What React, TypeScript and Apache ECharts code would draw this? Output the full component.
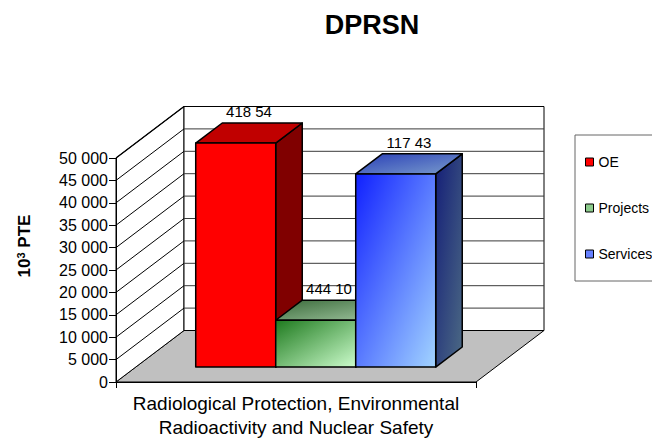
import React, { useEffect, useRef } from "react";
import * as echarts from "echarts";

// ---------- data ----------
const categories = ["Radiological Protection, Environmental\nRadioactivity and Nuclear Safety"];
const seriesNames = ["OE", "Projects", "Services"];
const seriesValues = [54418, 10444, 43117];
const valueLabels = ["418 54", "444 10", "117 43"];
const yTickValues = [0, 5000, 10000, 15000, 20000, 25000, 30000, 35000, 40000, 45000, 50000];
const yMin = 0;
const yMax = 50000;
const yInterval = 5000;

// ---------- styling ----------
const FONT = "'Liberation Sans', Arial, sans-serif";
const DEPTH_X = 68;
const DEPTH_Y = 51.5;
const D_FRONT = 0.29;
const D_BACK = 0.68;

const lg = (a: string, b: string) =>
  new echarts.graphic.LinearGradient(0, 0, 1, 1, [
    { offset: 0, color: a },
    { offset: 1, color: b },
  ]);

const faceStyles = [
  { front: () => "#FF0000", top: () => "#C00000", side: () => "#800000", legend: "#FF0000" },
  {
    front: () => lg("#1E7A1E", "#CCFCCC"),
    top: () => lg("#3A6A3A", "#9EC49E"),
    side: () => lg("#2A5A2A", "#6E9E6E"),
    legend: "#8CCB8C",
  },
  {
    front: () => lg("#1020FF", "#A2D4FF"),
    top: () => lg("#2A40B8", "#7A9CCC"),
    side: () => lg("#141E78", "#4C6A84"),
    legend: "#6680FF",
  },
];

const fmt = (v: number) => String(v).replace(/\B(?=(\d{3})+(?!\d))/g, " ");

function frameRender(params: any, api: any) {
  const base = api.coord([0, yMin]);
  const topPt = api.coord([0, yMax]);
  const band = api.size([1, 0])[0];
  const L = base[0] - band / 2;
  const R = base[0] + band / 2;
  const y0 = base[1];
  const yT = topPt[1];
  const children: any[] = [];
  children.push({
    type: "polygon",
    shape: { points: [[L, y0], [R, y0], [R + DEPTH_X, y0 - DEPTH_Y], [L + DEPTH_X, y0 - DEPTH_Y]] },
    style: { fill: "#C0C0C0", stroke: "#000", lineWidth: 1 },
  });
  children.push({
    type: "polygon",
    shape: { points: [[L, y0], [L, yT], [L + DEPTH_X, yT - DEPTH_Y], [L + DEPTH_X, y0 - DEPTH_Y]] },
    style: { fill: "#FFFFFF", stroke: "#000", lineWidth: 1 },
  });
  children.push({
    type: "rect",
    shape: { x: L + DEPTH_X, y: yT - DEPTH_Y, width: R - L, height: y0 - yT },
    style: { fill: "#FFFFFF", stroke: "#000", lineWidth: 1 },
  });
  yTickValues.forEach((t) => {
    if (t === yMin) return;
    const y = api.coord([0, t])[1];
    if (t !== yMax) {
      children.push({
        type: "line",
        shape: { x1: L + DEPTH_X, y1: y - DEPTH_Y, x2: R + DEPTH_X, y2: y - DEPTH_Y },
        style: { stroke: "#3A3A3A", lineWidth: 1 },
      });
    }
    children.push({
      type: "line",
      shape: { x1: L, y1: y, x2: L + DEPTH_X, y2: y - DEPTH_Y },
      style: { stroke: "#000", lineWidth: t === yMax ? 1.3 : 1 },
    });
  });
  return { type: "group", children };
}

function makeBarRender(idx: number) {
  return (params: any, api: any) => {
    const v = Math.min(api.value(1), yMax);
    const base = api.coord([api.value(0), yMin]);
    const top = api.coord([api.value(0), v]);
    const band = api.size([1, 0])[0];
    const barW = band / 4.5;
    const n = seriesNames.length;
    const left0 = base[0] - (n / 2) * barW + idx * barW;
    const fx = left0 + DEPTH_X * D_FRONT;
    const fyT = top[1] - DEPTH_Y * D_FRONT;
    const fyB = base[1] - DEPTH_Y * D_FRONT;
    const ddx = DEPTH_X * (D_BACK - D_FRONT);
    const ddy = DEPTH_Y * (D_BACK - D_FRONT);
    const s = faceStyles[idx];
    const stroke = { stroke: "#000", lineWidth: 1.5, lineJoin: "round" };
    return {
      type: "group",
      children: [
        {
          type: "polygon",
          shape: {
            points: [[fx + barW, fyT], [fx + barW + ddx, fyT - ddy], [fx + barW + ddx, fyB - ddy], [fx + barW, fyB]],
          },
          style: { fill: s.side(), ...stroke },
        },
        {
          type: "polygon",
          shape: { points: [[fx, fyT], [fx + barW, fyT], [fx + barW + ddx, fyT - ddy], [fx + ddx, fyT - ddy]] },
          style: { fill: s.top(), ...stroke },
        },
        {
          type: "rect",
          shape: { x: fx, y: fyT, width: barW, height: fyB - fyT },
          style: { fill: s.front(), ...stroke },
        },
        {
          type: "text",
          x: fx + (barW + ddx) / 2,
          y: fyT - ddy - 4,
          style: {
            text: valueLabels[idx],
            fill: "#000",
            font: `15px ${FONT}`,
            align: "center",
            verticalAlign: "bottom",
          },
        },
      ],
    };
  };
}

export default function App() {
  const ref = useRef<HTMLDivElement>(null);
  useEffect(() => {
    if (!ref.current) return;
    const chart = echarts.init(ref.current, undefined, { renderer: "svg" });
    const barSeries = seriesNames.map((name, i) => ({
      type: "custom",
      name,
      data: [[0, seriesValues[i]]],
      renderItem: makeBarRender(i),
      itemStyle: { color: faceStyles[i].legend },
      clip: false,
      z: 3 + i,
      silent: true,
    }));
    chart.setOption({
      animation: false,
      backgroundColor: "#FFFFFF",
      textStyle: { fontFamily: FONT },
      title: {
        text: "DPRSN",
        left: 367,
        top: 6,
        textAlign: "center",
        textStyle: { fontSize: 27, fontWeight: "bold", color: "#000", fontFamily: FONT },
      },
      legend: {
        orient: "vertical",
        left: 575,
        top: 135,
        padding: [20, 30, 20, 10],
        itemGap: 32,
        itemWidth: 8,
        itemHeight: 8,
        icon: "rect",
        borderColor: "#666",
        borderWidth: 1,
        backgroundColor: "#FFFFFF",
        textStyle: { fontSize: 14, color: "#000", fontFamily: FONT, lineHeight: 14 },
        data: seriesNames.map((name, i) => ({
          name,
          itemStyle: { color: faceStyles[i].legend, borderColor: "#000", borderWidth: 1 },
        })),
      },
      grid: { left: 116, top: 158, width: 360, height: 224, containLabel: false },
      xAxis: {
        type: "category",
        data: categories,
        z: 10,
        axisLine: { show: true, lineStyle: { color: "#000", width: 1 } },
        axisTick: { show: true, length: 6, lineStyle: { color: "#000" } },
        axisLabel: {
          interval: 0,
          margin: 9,
          fontSize: 19,
          lineHeight: 24,
          color: "#000",
          fontFamily: FONT,
        },
        splitLine: { show: false },
      },
      yAxis: {
        type: "value",
        min: yMin,
        max: yMax,
        interval: yInterval,
        z: 10,
        axisLine: { show: true, lineStyle: { color: "#000", width: 1 } },
        axisTick: { show: true, length: 7, lineStyle: { color: "#000" } },
        axisLabel: { margin: 8, fontSize: 16, color: "#000", fontFamily: FONT, formatter: (v: number) => fmt(v) },
        splitLine: { show: false },
      },
      graphic: [
        {
          type: "text",
          x: 24,
          y: 246,
          rotation: Math.PI / 2,
          style: {
            text: "10{sup|3} PTE",
            font: `bold 17px ${FONT}`,
            fill: "#000",
            align: "center",
            verticalAlign: "middle",
            rich: {
              sup: { fontSize: 11, fontWeight: "bold", fontFamily: FONT, verticalAlign: "top", fill: "#000", lineHeight: 17 },
            },
          },
        },
      ],
      series: [
        {
          type: "custom",
          name: "frame",
          data: [[0, 0]],
          renderItem: frameRender,
          clip: false,
          z: 1,
          silent: true,
        },
        ...barSeries,
      ],
    });
    return () => chart.dispose();
  }, []);
  return <div ref={ref} style={{ position: "fixed", left: 0, top: 0, width: 652, height: 444 }} />;
}
